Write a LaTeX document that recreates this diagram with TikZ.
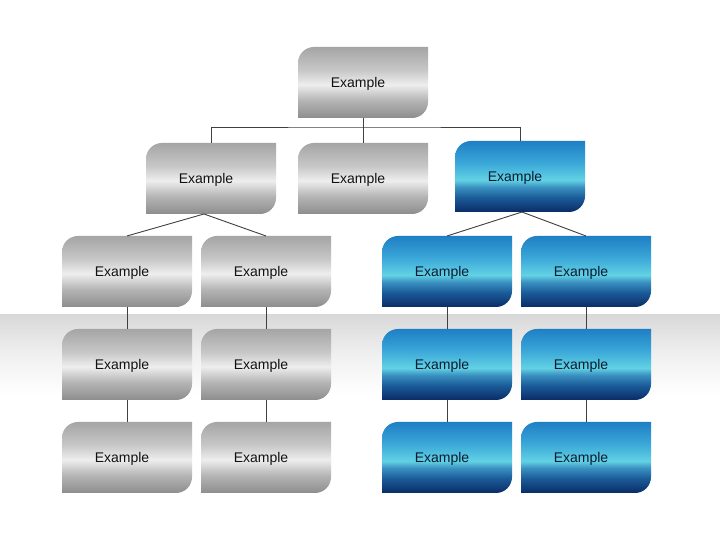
\documentclass[tikz,border=0pt]{standalone}
\usepackage{fontspec}
\setmainfont{Liberation Sans}
\definecolor{gB}{HTML}{8D8D8D}
\definecolor{gL}{HTML}{B5B5B5}
\definecolor{gM}{HTML}{EEEEEE}
\definecolor{gU}{HTML}{C8C8C8}
\definecolor{gT}{HTML}{A5A5A5}
\definecolor{bB}{HTML}{0A2C66}
\definecolor{bL}{HTML}{1A5A98}
\definecolor{bK}{HTML}{3A90C0}
\definecolor{bM}{HTML}{62D2E4}
\definecolor{bU}{HTML}{3AA6D8}
\definecolor{bT}{HTML}{1F7FC4}
\definecolor{bandtop}{HTML}{D9D9D9}
\definecolor{bandmid}{HTML}{F0F0F0}
\definecolor{linec}{HTML}{404040}
\definecolor{txtg}{HTML}{111111}
\definecolor{txtb}{HTML}{0A1A30}
\pgfdeclareverticalshading{grayshade}{100bp}{color(0bp)=(gB); color(25bp)=(gB); color(37.5bp)=(gL); color(48.5bp)=(gM); color(58.5bp)=(gU); color(75bp)=(gT); color(100bp)=(gT)}
\pgfdeclareverticalshading{blueshade}{100bp}{color(0bp)=(bB); color(25bp)=(bB); color(35bp)=(bL); color(42.5bp)=(bK); color(47.5bp)=(bM); color(60bp)=(bU); color(75bp)=(bT); color(100bp)=(bT)}
\pgfdeclareverticalshading{bandshade}{100bp}{color(0bp)=(white); color(25bp)=(white); color(50bp)=(bandmid); color(75bp)=(bandtop); color(100bp)=(bandtop)}
\tikzset{
  boxn/.style={minimum width=130pt, minimum height=71pt, inner sep=0pt, outer sep=0pt},
  lbl/.style={font=\fontsize{14}{16}\selectfont, inner sep=0pt},
  conn/.style={draw=linec, line width=0.9pt},
}
\newcommand\ebox[5]{%
  \node[boxn] (#1) at ({#2+65},{540-#3-35.5}) {};
  \shade[shading=#4] ([yshift=-16pt]#1.north west) arc[start angle=180,end angle=90,radius=16pt] -- (#1.north east) -- ([yshift=16pt]#1.south east) arc[start angle=0,end angle=-90,radius=16pt] -- (#1.south west) -- cycle;
  \node[lbl, text=#5] (#1t) at ([xshift=-5pt,yshift=-1.5pt]#1.center) {Example};
}
\begin{document}
\begin{tikzpicture}[x=1pt,y=1pt]
\useasboundingbox (0,0) rectangle (720,540);
\fill[white] (0,0) rectangle (720,540);
\shade[shading=bandshade] (0,{540-315}) rectangle (720,{540-395});
% boxes
\ebox{t}{298}{47}{grayshade}{txtg}
\ebox{a}{146}{143}{grayshade}{txtg}
\ebox{b}{298}{143}{grayshade}{txtg}
\ebox{c}{455}{141}{blueshade}{txtb}
\ebox{r1}{62}{236}{grayshade}{txtg}
\ebox{r2}{201}{236}{grayshade}{txtg}
\ebox{r3}{382}{236}{blueshade}{txtb}
\ebox{r4}{521}{236}{blueshade}{txtb}
\ebox{s1}{62}{329}{grayshade}{txtg}
\ebox{s2}{201}{329}{grayshade}{txtg}
\ebox{s3}{382}{329}{blueshade}{txtb}
\ebox{s4}{521}{329}{blueshade}{txtb}
\ebox{u1}{62}{422}{grayshade}{txtg}
\ebox{u2}{201}{422}{grayshade}{txtg}
\ebox{u3}{382}{422}{blueshade}{txtb}
\ebox{u4}{521}{422}{blueshade}{txtb}
% connectors
\coordinate (tj) at ([yshift=-9pt]t.south);
\draw[conn] (a.north) |- (tj) -| (c.north);
\draw[conn] (t.south) -- (b.north);
\coordinate (aj) at ([xshift=-7pt]a.south);
\draw[conn] (r1.north) -- (aj) -- (r2.north);
\coordinate (cj) at ([xshift=2pt]c.south);
\draw[conn] (r3.north) -- (cj) -- (r4.north);
\draw[conn] (r1.south) -- (s1.north);
\draw[conn] (r2.south) -- (s2.north);
\draw[conn] (r3.south) -- (s3.north);
\draw[conn] (r4.south) -- (s4.north);
\draw[conn] (s1.south) -- (u1.north);
\draw[conn] (s2.south) -- (u2.north);
\draw[conn] (s3.south) -- (u3.north);
\draw[conn] (s4.south) -- (u4.north);
\end{tikzpicture}
\end{document}
